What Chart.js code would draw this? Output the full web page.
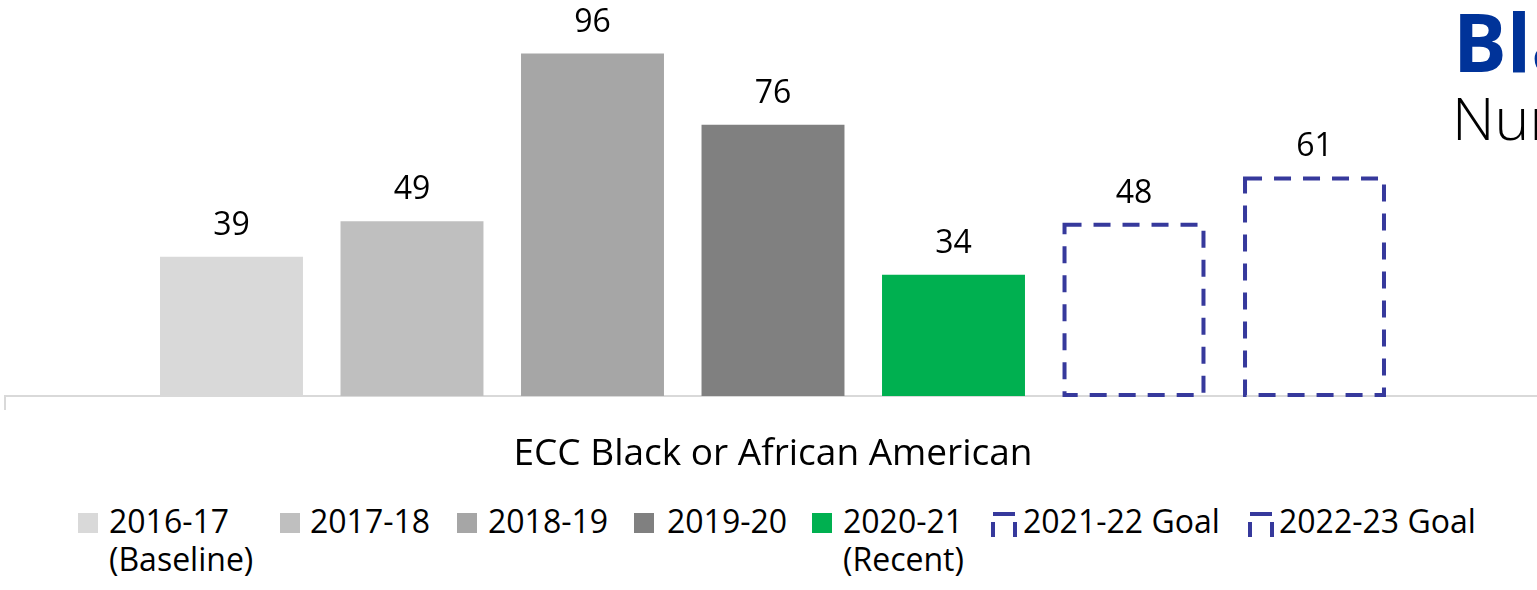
<!DOCTYPE html>
<html>
<head>
<meta charset="utf-8">
<script src="https://cdn.jsdelivr.net/npm/chart.js@4/dist/chart.umd.min.js"></script>
<style>
    html, body { margin: 0; padding: 0; background: #fff; }
    body { width: 1537px; height: 590px; position: relative; overflow: hidden; font-family: 'Open Sans', sans-serif; }
    .chartBox { position: absolute; left: 0; top: 0; width: 1541px; height: 470px; }
    .title1 { position: absolute; left: 1453px; top: 1px; font-size: 80px; line-height: 1; font-weight: 700; color: #003399; white-space: nowrap; }
    .title2 { position: absolute; left: 1452px; top: 88px; font-size: 59px; line-height: 1; font-weight: 300; color: #000; white-space: nowrap; }
    .legend { position: absolute; left: 0; top: 502px; width: 1537px; height: 88px; }
    .legend .item { position: absolute; top: 0; font-size: 32px; line-height: 38px; color: #000; white-space: nowrap; }
    .legend .box { position: absolute; top: 11px; width: 20px; height: 20px; }
    .legend svg { position: absolute; top: 10px; }
</style>
</head>
<body>
<div class="chartBox"><canvas id="chart"></canvas></div>
<div class="title1">Black or African American</div>
<div class="title2">Number</div>
<div class="legend" id="legend"></div>

<script>
// données du graphique
const categories = ['ECC Black or African American'];
const seriesLabels = [['2016-17', '(Baseline)'], ['2017-18'], ['2018-19'], ['2019-20'], ['2020-21', '(Recent)'], ['2021-22 Goal'], ['2022-23 Goal']];
const seriesValues = [39, 49, 96, 76, 34, 48, 61];
const seriesColors = ['#d9d9d9', '#bfbfbf', '#a6a6a6', '#808080', '#00b050', null, null];
const goalColor = '#36399c';

// position des éléments de la légende (x du carré, x du texte)
const legendBoxX = [78, 280, 457, 634, 812, 991, 1248];
const legendTextX = [109, 310, 488, 667, 843, 1023, 1279];

const datasets = seriesValues.map((v, i) => ({
    label: seriesLabels[i].join(' '),
    data: [v],
    backgroundColor: seriesColors[i] || 'rgba(0,0,0,0)',
    borderWidth: 0,
    goal: seriesColors[i] === null,
    categoryPercentage: 0.8226,
    barPercentage: 0.792
}));

// bordures en pointillés pour les objectifs + étiquettes de valeurs
const barExtras = {
    id: 'barExtras',
    afterDatasetsDraw(chart) {
        const ctx = chart.ctx;
        chart.data.datasets.forEach((ds, i) => {
            const meta = chart.getDatasetMeta(i);
            meta.data.forEach((bar, j) => {
                if (ds.goal) {
                    const left = bar.x - bar.width / 2 + 2;
                    const right = bar.x + bar.width / 2 - 2;
                    ctx.save();
                    ctx.strokeStyle = goalColor;
                    ctx.lineWidth = 4;
                    ctx.setLineDash([17, 12]);
                    ctx.strokeRect(left, bar.y, right - left, bar.base - bar.y - 1);
                    ctx.restore();
                }
                ctx.save();
                ctx.fillStyle = '#000';
                ctx.font = '32px "Open Sans"';
                ctx.textAlign = 'center';
                ctx.textBaseline = 'middle';
                ctx.fillText(ds.data[j], bar.x, bar.y - 31);
                ctx.restore();
            });
        });
    }
};

const ctx = document.getElementById('chart').getContext('2d');
new Chart(ctx, {
    type: 'bar',
    data: { labels: categories, datasets: datasets },
    options: {
        responsive: true,
        maintainAspectRatio: false,
        animation: false,
        layout: { padding: { left: 5, right: 0, top: 0, bottom: 0 } },
        plugins: { legend: { display: false }, tooltip: { enabled: false } },
        scales: {
            x: {
                offset: true,
                grid: { display: true, drawOnChartArea: false, drawTicks: true, tickLength: 14, color: '#d9d9d9', lineWidth: 2 },
                border: { display: true, color: '#d9d9d9', width: 2 },
                ticks: { color: '#000', font: { family: 'Open Sans', size: 37 }, padding: 22 },
                afterFit: (scale) => { scale.height = 74; }
            },
            y: {
                display: false,
                min: 0,
                max: 111
            }
        }
    },
    plugins: [barExtras]
});

// légende HTML
const legend = document.getElementById('legend');
seriesLabels.forEach((lines, i) => {
    if (seriesColors[i]) {
        const box = document.createElement('div');
        box.className = 'box';
        box.style.left = legendBoxX[i] + 'px';
        box.style.background = seriesColors[i];
        legend.appendChild(box);
    } else {
        const ns = 'http://www.w3.org/2000/svg';
        const svg = document.createElementNS(ns, 'svg');
        svg.setAttribute('width', '26');
        svg.setAttribute('height', '27');
        svg.style.left = legendBoxX[i] + 'px';
        const path = document.createElementNS(ns, 'path');
        path.setAttribute('d', 'M2,2 H24 M2,10 V25 M24,10 V25');
        path.setAttribute('stroke', goalColor);
        path.setAttribute('stroke-width', '4');
        path.setAttribute('fill', 'none');
        svg.appendChild(path);
        legend.appendChild(svg);
    }
    const item = document.createElement('div');
    item.className = 'item';
    item.style.left = legendTextX[i] + 'px';
    item.innerHTML = lines.join('<br>');
    legend.appendChild(item);
});
</script>
</body>
</html>
